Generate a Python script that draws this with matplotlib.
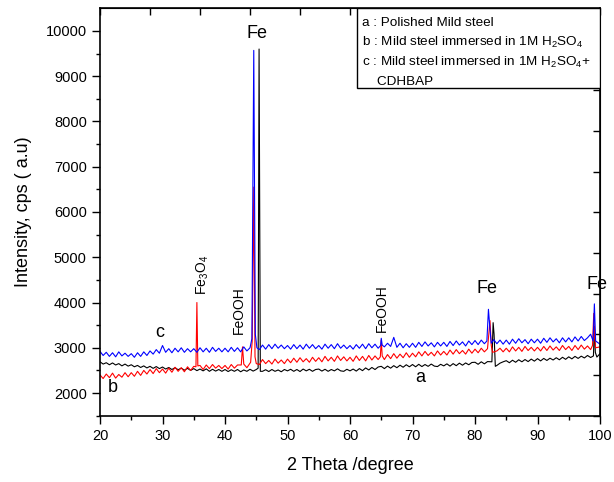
import numpy as np
import matplotlib
matplotlib.use('Agg')
import matplotlib.pyplot as plt
from matplotlib.patches import Rectangle

plt.rcParams['font.family'] = ['Liberation Sans', 'DejaVu Sans']
plt.rcParams['mathtext.default'] = 'regular'

# 2 theta grid for the baselines (0.5 deg step)
theta = np.arange(20, 100.01, 0.5)

# a : polished mild steel (black)
base_a = [2690, 2640, 2670, 2625, 2665, 2620, 2650, 2600, 2640, 2595,
          2625, 2580, 2610, 2565, 2600, 2555, 2590, 2545, 2585, 2540,
          2575, 2530, 2565, 2520, 2560, 2515, 2550, 2505, 2545, 2500,
          2540, 2495, 2530, 2490, 2535, 2480, 2525, 2485, 2520, 2480,
          2520, 2475, 2515, 2480, 2520, 2470, 2510, 2480, 2525, 2485,
          2520, 2530, 2480, 2515, 2475, 2520, 2480, 2510, 2470, 2520,
          2490, 2525, 2480, 2520, 2475, 2530, 2490, 2525, 2480, 2520,
          2530, 2485, 2525, 2480, 2520, 2490, 2535, 2490, 2480, 2525,
          2490, 2530, 2485, 2540, 2495, 2555, 2510, 2565, 2520, 2575,
          2590, 2540, 2595, 2550, 2605, 2560, 2615, 2570, 2625, 2580,
          2630, 2580, 2635, 2585, 2630, 2590, 2640, 2595, 2585, 2635,
          2600, 2645, 2595, 2650, 2605, 2660, 2615, 2665, 2625, 2675,
          2680, 2635, 2690, 2645, 2695, 2650, 2700, 2610, 2660, 2690,
          2715, 2670, 2725, 2680, 2735, 2690, 2740, 2695, 2750, 2705,
          2760, 2710, 2765, 2720, 2770, 2730, 2780, 2735, 2790, 2745,
          2800, 2755, 2810, 2765, 2815, 2775, 2830, 2785, 2840, 2795,
          2870]
peak_a_x = [45.3, 45.45, 45.65, 82.7, 82.9, 83.05, 83.25, 98.95, 99.1, 99.25]
peak_a_y = [2550, 9600, 2480, 2690, 3555, 3300, 2590, 2820, 3470, 2900]

# b : mild steel in 1M H2SO4 (red)
base_b = [2400, 2320, 2420, 2340, 2440, 2330, 2410, 2350, 2450, 2360,
          2450, 2370, 2480, 2390, 2500, 2420, 2520, 2430, 2540, 2450,
          2530, 2440, 2550, 2460, 2570, 2480, 2560, 2470, 2580, 2500,
          2590, 2580, 2610, 2520, 2620, 2540, 2630, 2550, 2610, 2540,
          2610, 2530, 2630, 2550, 2620, 2540, 2640, 2560, 2660, 2580,
          2700, 2630, 2740, 2650, 2720, 2640, 2750, 2660, 2730, 2650,
          2750, 2670, 2770, 2680, 2780, 2690, 2760, 2680, 2790, 2700,
          2780, 2690, 2810, 2710, 2790, 2700, 2820, 2720, 2800, 2710,
          2790, 2700, 2820, 2720, 2810, 2710, 2830, 2730, 2820, 2740,
          2820, 2740, 2850, 2760, 2870, 2770, 2860, 2780, 2890, 2790,
          2880, 2800, 2910, 2820, 2920, 2830, 2900, 2820, 2930, 2840,
          2920, 2840, 2950, 2860, 2960, 2870, 2940, 2860, 2970, 2880,
          2970, 2890, 2990, 2910, 3000, 2920, 3010, 2930, 2990, 2910,
          2990, 2910, 3020, 2930, 3010, 2920, 3030, 2940, 3010, 2930,
          3010, 2930, 3030, 2940, 3040, 2950, 3020, 2940, 3050, 2960,
          3030, 2940, 3050, 2960, 3060, 2970, 3040, 2960, 3060, 2980,
          3020]
peak_b_x = [35.35, 35.5, 35.65, 42.6, 42.8, 43.0, 44.1, 44.35, 44.6, 44.8, 45.0,
            64.85, 65.0, 65.15, 82.0, 82.2, 82.4, 82.6, 82.8,
            98.8, 99.0, 99.15, 99.3]
peak_b_y = [2580, 4000, 2600, 2620, 3020, 2640, 2680, 3150, 6550, 2800, 2650,
            2800, 3170, 2820, 2980, 3300, 3600, 3050, 2900,
            3050, 3760, 3200, 3000]

# c : mild steel in 1M H2SO4 + CDHBAP (blue)
base_c = [2920, 2830, 2900, 2810, 2890, 2800, 2910, 2820, 2880, 2810,
          2870, 2790, 2890, 2810, 2910, 2830, 2930, 2860, 2960, 2880,
          3050, 2900, 2980, 2890, 2990, 2910, 3000, 2900, 2980, 2910,
          2980, 2900, 3000, 2910, 2990, 2900, 3010, 2920, 2990, 2910,
          2990, 2910, 3010, 2920, 3000, 2910, 3020, 2930, 3010, 2940,
          3030, 2960, 3060, 2970, 3070, 2980, 3080, 2990, 3060, 2980,
          3050, 2970, 3070, 2980, 3060, 2970, 3080, 2990, 3070, 2980,
          3050, 2970, 3080, 2990, 3070, 2980, 3090, 2990, 3060, 2980,
          3050, 2970, 3070, 2990, 3080, 2980, 3090, 3000, 3080, 2990,
          3080, 3020, 3100, 3030, 3230, 3010, 3100, 3000, 3090, 3010,
          3100, 3010, 3120, 3030, 3130, 3040, 3110, 3020, 3120, 3040,
          3120, 3030, 3140, 3050, 3150, 3060, 3130, 3040, 3150, 3070,
          3160, 3070, 3170, 3090, 3170, 3080, 3180, 3090, 3170, 3080,
          3170, 3080, 3190, 3100, 3200, 3110, 3180, 3090, 3190, 3110,
          3190, 3100, 3210, 3120, 3220, 3130, 3200, 3110, 3220, 3130,
          3220, 3130, 3240, 3150, 3250, 3160, 3220, 3300, 3180, 3150,
          3080]
peak_c_x = [44.0, 44.3, 44.6, 44.85, 45.1, 64.9, 65.0, 65.15,
            81.9, 82.15, 82.4, 82.6, 98.9, 99.1, 99.3]
peak_c_y = [3000, 3200, 9570, 3300, 3000, 3050, 3210, 3060,
            3150, 3850, 3400, 3100, 3150, 3970, 3150]


def merge(base, px, py):
    # put the peak points into the baseline, dropping grid points under a peak
    base = np.array(base, dtype=float)
    px = np.array(px)
    keep = np.array([np.min(np.abs(px - t)) >= 0.25 for t in theta])
    x = np.concatenate([theta[keep], px])
    y = np.concatenate([base[keep], py])
    order = np.argsort(x)
    return x[order], y[order]


fig = plt.figure(figsize=(6.14, 4.82), dpi=100)
ax = fig.add_axes([0.1629, 0.1376, 0.8143, 0.8452])

xa, ya = merge(base_a, peak_a_x, peak_a_y)
xb, yb = merge(base_b, peak_b_x, peak_b_y)
xc, yc = merge(base_c, peak_c_x, peak_c_y)
ax.plot(xa, ya, color='black', lw=0.8)
ax.plot(xb, yb, color='red', lw=0.8)
ax.plot(xc, yc, color='blue', lw=0.8)

ax.set_xlim(20, 100)
ax.set_ylim(1500, 10500)
ax.set_xticks(np.arange(20, 101, 10))
ax.set_xticks(np.arange(25, 100, 10), minor=True)
ax.set_yticks(np.arange(2000, 10001, 1000))
ax.set_yticks(np.arange(1500, 10500, 1000), minor=True)
ax.tick_params(which='major', direction='out', length=6, width=1, labelsize=10.5)
ax.tick_params(which='minor', direction='out', length=3, width=1)
for s in ax.spines.values():
    s.set_linewidth(1.2)

top = ax.secondary_xaxis('top')
top.set_xticks(np.arange(20, 101, 8))
top.tick_params(direction='in', length=5, width=1, labeltop=False)
right = ax.secondary_yaxis('right')
right.set_yticks(np.arange(1500, 10500, 898))
right.tick_params(direction='in', length=5, width=1, labelright=False)

ax.set_xlabel('2 Theta /degree', fontsize=13, labelpad=10)
ax.set_ylabel('Intensity, cps ( a.u)', fontsize=13, labelpad=10)

# peak labels
ax.text(45.1, 9950, 'Fe', fontsize=13, ha='center', va='center')
ax.text(81.9, 4320, 'Fe', fontsize=13, ha='center', va='center')
ax.text(99.5, 4400, 'Fe', fontsize=13, ha='center', va='center', clip_on=False)
ax.text(36.4, 4600, 'Fe$_3$O$_4$', fontsize=10, rotation=90, ha='center', va='center')
ax.text(42.2, 3840, 'FeOOH', fontsize=10, rotation=90, ha='center', va='center')
ax.text(65.1, 3880, 'FeOOH', fontsize=10, rotation=90, ha='center', va='center')

# curve labels
ax.text(29.6, 3330, 'c', fontsize=13, ha='center', va='center')
ax.text(22.1, 2130, 'b', fontsize=13, ha='center', va='center')
ax.text(71.2, 2350, 'a', fontsize=13, ha='center', va='center')

# description box
ax.add_patch(Rectangle((0.514, 0.804), 0.486, 0.196, transform=ax.transAxes,
                       facecolor='white', edgecolor='black', lw=1, zorder=5))
box_lines = ['a : Polished Mild steel',
             'b : Mild steel immersed in 1M H$_2$SO$_4$',
             'c : Mild steel immersed in 1M H$_2$SO$_4$+',
             '    CDHBAP']
box_y = [0.964, 0.917, 0.868, 0.819]
for line, yy in zip(box_lines, box_y):
    ax.text(0.524, yy, line, transform=ax.transAxes, fontsize=9.7,
            va='center', ha='left', zorder=6)

fig.savefig('out.png', dpi=100)
